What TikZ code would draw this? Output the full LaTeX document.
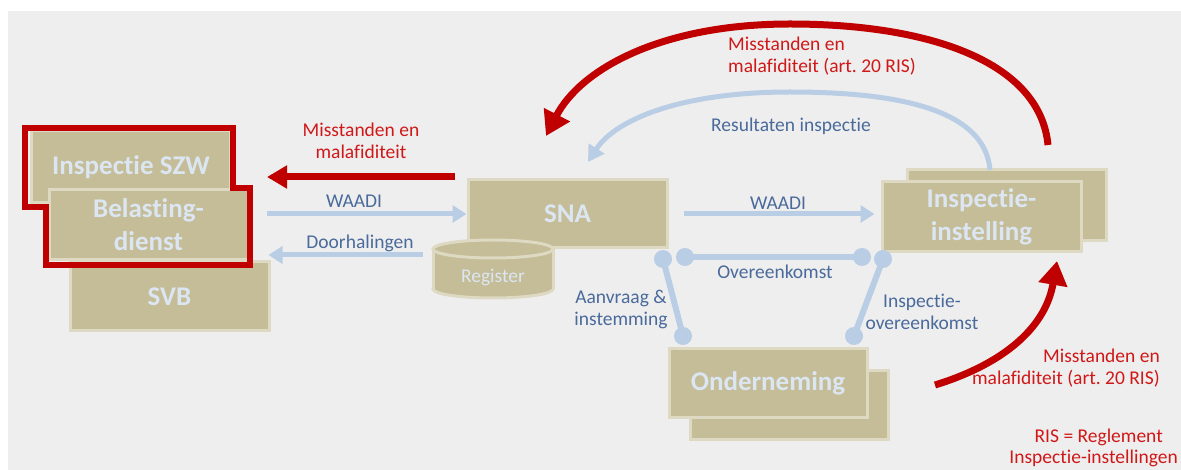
\documentclass[tikz,border=0pt]{standalone}
\usepackage{fontspec}
\setmainfont{Carlito}[Ligatures=NoCommon]
\usetikzlibrary{arrows.meta,calc}
\frenchspacing
\definecolor{bg}{HTML}{EEEEEE}
\definecolor{tan}{HTML}{C4BD97}
\definecolor{tanborder}{HTML}{DDD9C3}
\definecolor{boxtext}{HTML}{DCE6F2}
\definecolor{conblue}{HTML}{B9CDE5}
\definecolor{lblblue}{HTML}{4A6A9B}
\definecolor{myred}{HTML}{C00000}
\definecolor{redtxt}{HTML}{D01818}
\tikzset{
  tanbox/.style={fill=tan,draw=tanborder,line width=3pt,minimum width=199pt,minimum height=69pt,inner sep=0pt,
    text=boxtext,align=center,font=\fontsize{27}{33}\selectfont\bfseries},
  lbl/.style={text=lblblue,align=center,font=\fontsize{19.5}{22}\selectfont,inner sep=0pt},
  rlbl/.style={text=redtxt,font=\fontsize{19.5}{22}\selectfont,inner sep=0pt},
  bluearrow/.style={draw=conblue,line width=5pt,-{Triangle[length=14pt,width=17pt]}},
  redarrow/.style={draw=myred,line width=7pt,-{Triangle[length=20pt,width=22pt]}},
  redarc/.style={draw=myred,line width=7pt,-{Triangle[length=24pt,width=28pt]}},
  dotline/.style={draw=conblue,line width=6pt},
  enddot/.style={circle,fill=conblue,minimum size=18pt,inner sep=0pt},
  redframe/.style={draw=myred,line width=6pt,line join=miter},
}
\begin{document}
\begin{tikzpicture}[x=1pt,y=-1pt]
\useasboundingbox (0,0) rectangle (1181,470);
\fill[white] (0,0) rectangle (1181,470);
\fill[bg] (8,11) rectangle (1181,470);

% left group
\node[tanbox] (svb) at (169.5,296.5) {SVB};
\node[tanbox,minimum height=72pt] (szw) at (131,167) {\raisebox{4pt}{Inspectie SZW}};
\node[tanbox,minimum height=70pt] (bel) at (148.5,225) {Belasting-\\dienst};
\draw[redframe] (25,128) -- (233,128) -- (233,188) -- (250,188) -- (250,265) -- (46,265) -- (46,207) -- (25,207) -- cycle;

% SNA and register
\node[tanbox,minimum height=68pt] (sna) at (567.5,214) {SNA};
\filldraw[fill=tan,draw=tanborder,line width=3pt] (493,289) ellipse[x radius=60,y radius=9];
\fill[tan] (433,249) rectangle (553,289);
\draw[tanborder,line width=3pt] (433,249) -- (433,289) (553,249) -- (553,289);
\filldraw[fill=tan,draw=tanborder,line width=3pt] (493,249) ellipse[x radius=60,y radius=9];
\node[text=boxtext,font=\fontsize{19.5}{22}\selectfont] (reg) at (493,277) {Register};

% Inspectie-instelling
\filldraw[fill=tan,draw=tanborder,line width=3pt] (907,170) rectangle (1106,241);
\node[tanbox,minimum height=70pt] (insp) at (981.5,217) {Inspectie-\\instelling};

% Onderneming
\filldraw[fill=tan,draw=tanborder,line width=3pt] (690,370) rectangle (888,439);
\node[tanbox,minimum width=198pt,minimum height=68pt] (ond) at (768,383) {Onderneming};

% straight connectors
\coordinate (r1s) at (455,177);
\coordinate (r1e) at (267,177);
\draw[redarrow] (r1s) -- (r1e);
\node[rlbl,align=center] (l1) at (361,141) {Misstanden en\\malafiditeit};

\draw[bluearrow] ($(bel.east)+(17,-11)$) -- (sna.west |- 0,214);
\node[lbl] (lw1) at (354,201) {WAADI};
\coordinate (ds) at (423,255);
\draw[bluearrow] (ds) -- ($(bel.east)+(19,30)$);
\node[lbl] (ld) at (360,243) {Doorhalingen};

\draw[bluearrow] ($(sna.east)+(15,0)$) -- ($(insp.west)+(-6,-3)$);
\node[lbl] (lw2) at (778,203) {WAADI};

% dotted-end lines
\node[enddot] (o1) at (685,257) {};
\node[enddot] (o2) at (862,257) {};
\draw[dotline] (o1.center) -- (o2.center);
\node[lbl] (lo) at (775,272) {Overeenkomst};

\node[enddot] (a1) at (663,259) {};
\node[enddot] (a2) at (683,336) {};
\draw[dotline] (a1.center) -- (a2.center);
\node[lbl] (la) at (621,310) {Aanvraag \&\\instemming};

\node[enddot] (i1) at (883,259) {};
\node[enddot] (i2) at (854,336) {};
\draw[dotline] (i1.center) -- (i2.center);
\node[lbl] (li) at (922,312) {Inspectie-\\overeenkomst};

% arcs
\coordinate (ta) at (1048,145);
\coordinate (tb) at (546,136);
\draw[redarc] (ta) .. controls (1040,62) and (930,24) .. (790,24) .. controls (660,24) and (580,70) .. (tb);
\node[rlbl,align=left,anchor=west] (lt) at (728,56) {Misstanden en\\malafiditeit (art.\ 20 RIS)};

\coordinate (ba) at (990,170);
\coordinate (bb) at (588,162);
\draw[draw=conblue,line width=5pt,-{Triangle[length=16pt,width=18pt]}] (ba) .. controls (985,110) and (900,92) .. (790,92) .. controls (680,92) and (615,120) .. (bb);
\node[lbl] (lr) at (791,126) {Resultaten inspectie};

\coordinate (ca) at (935,385);
\coordinate (cb) at (1057,261);
\draw[redarc] (ca) .. controls (1000,365) and (1045,330) .. (cb);
\node[rlbl,align=right,anchor=east] (lb) at (1160,368) {Misstanden en\\malafiditeit (art.\ 20 RIS)};

\node[rlbl,anchor=east] (ris1) at (1163,437) {RIS = Reglement};
\node[rlbl,anchor=east] (ris2) at (1178,458) {Inspectie-instellingen};
\end{tikzpicture}
\end{document}
